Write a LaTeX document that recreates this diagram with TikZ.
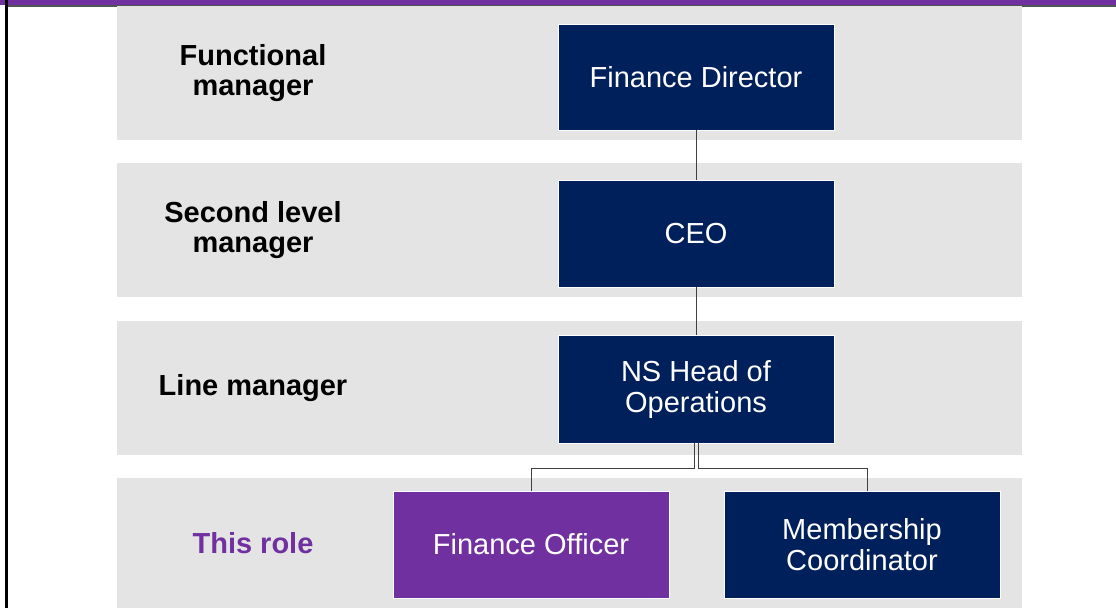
\documentclass[tikz,border=0pt]{standalone}
\usepackage{fontspec}
\setmainfont{Liberation Sans}

\definecolor{navy}{RGB}{0,32,92}
\definecolor{plum}{RGB}{112,48,160}
\definecolor{band}{RGB}{228,228,228}
\definecolor{rule}{RGB}{64,64,64}

\begin{document}
\begin{tikzpicture}[x=1pt, y=-1pt,
    band/.style={fill=band, minimum width=905pt, minimum height=134pt, inner sep=0pt},
    role/.style={font=\fontsize{29}{30}\selectfont\bfseries, align=center},
    post/.style={fill=navy, draw=white, line width=0.8pt, text=white, minimum width=276pt, minimum height=107pt, inner sep=0pt, align=center, font=\fontsize{29}{31}\selectfont},
    link/.style={draw=rule, line width=1pt}]

    \useasboundingbox (0,0) rectangle (1116,608);

    % header bar and left edge
    \fill[plum] (0,0) rectangle (1116,5);
    \fill[rule!90] (7,5) rectangle (1116,6.5);
    \fill[black] (5,0) rectangle (7.5,608);

    % grey rows
    \node (s1) at (569.5,73) [band] {};
    \node (s2) at (569.5,230) [band] {};
    \node (s3) at (569.5,388) [band] {};
    \node (s4) at (569.5,543) [band, minimum height=130pt] {};

    \node (l1) at (253,73) [role] {Functional\\manager};
    \node (l2) at (253,230) [role] {Second level\\manager};
    \node (l3) at (253,388) [role] {Line manager};
    \node (l4) at (253,543) [role, text=plum] {This role};

    \node (b1) at (696,77) [post, minimum height=106pt] {Finance Director};
    \node (b2) at (696,233.5) [post] {CEO};
    \node (b3) at (696,389) [post, minimum height=108pt] {NS Head of\\Operations};
    \node (b4) at (531,544.5) [post, fill=plum] {Finance Officer};
    \node (b5) at (862,544.5) [post] {Membership\\Coordinator};

    \draw [link] (b1) -- (b2);
    \draw [link] (b2) -- (b3);
    \draw [link] ([xshift=-2pt]b3.south) -- ++(0,25) -| (b4.north);
    \draw [link] ([xshift=2pt]b3.south) -- ++(0,25) -| ([xshift=5pt]b5.north);

\end{tikzpicture}
\end{document}
